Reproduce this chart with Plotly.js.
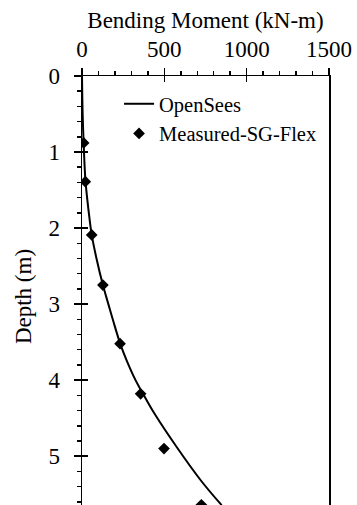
<!DOCTYPE html>
<html>
<head>
<meta charset="utf-8">
<script src="https://cdn.plot.ly/plotly-3.0.1.min.js"></script>
<style>
html,body{margin:0;padding:0;overflow:hidden;background:#fff;}
#chart{width:357px;height:517px;}
</style>
</head>
<body>
<div id="chart"></div>
<script>
// OpenSees curve (moment kN-m, depth m)
const openseesDepth  = [0, 0.5, 1.0, 1.4, 1.9, 2.09, 2.4, 2.75, 3.0, 3.21, 3.52, 3.74, 4.0, 4.13, 4.44, 4.88, 5.32, 5.645];
const openseesMoment = [0, 4, 12, 22, 47, 59, 88, 127, 160, 188, 232, 271, 325, 358, 440, 575, 722, 848];
// Measured-SG-Flex points
const measuredDepth  = [0.88, 1.39, 2.09, 2.75, 3.52, 4.18, 4.90, 5.64];
const measuredMoment = [10, 20, 59, 127, 231, 356, 498, 725];
const xTickVals = [0, 500, 1000, 1500];
const yTickVals = [0, 1, 2, 3, 4, 5];

const FONT = '"Liberation Serif", "Times New Roman", serif';
const traces = [
  {x: openseesMoment, y: openseesDepth, mode: 'lines', name: 'OpenSees',
   line: {color: '#000', width: 2, shape: 'spline', smoothing: 1}},
  {x: measuredMoment, y: measuredDepth, mode: 'markers', name: 'Measured-SG-Flex',
   marker: {symbol: 'diamond', size: 9, color: '#000'}},
  {x: [], y: [], xaxis: 'x2', yaxis: 'y2', showlegend: false, hoverinfo: 'skip'}
];
const layout = {
  width: 357, height: 517,
  margin: {l: 82, r: 28, t: 76, b: 0},
  paper_bgcolor: '#fff', plot_bgcolor: '#fff',
  font: {family: FONT, color: '#000', size: 23},
  showlegend: true,
  legend: {x: 0.150, y: 0.982, xanchor: 'left', yanchor: 'top',
           font: {family: FONT, size: 20.5, color: '#000'}, bgcolor: 'rgba(0,0,0,0)', borderwidth: 0},
  xaxis: {side: 'top', range: [0, 1500], tickvals: xTickVals, ticks: 'outside', ticklen: 7, tickwidth: 1.5,
          tickcolor: '#000', showline: true, linecolor: '#000', linewidth: 1.5, showgrid: false, zeroline: false,
          minor: {dtick: 100, ticks: 'outside', ticklen: 4, tickwidth: 1.5, tickcolor: '#000', showgrid: false},
          tickfont: {family: FONT, size: 23}, ticklabelstandoff: 1,
          title: {text: 'Bending Moment (kN-m)', font: {family: FONT, size: 23}, standoff: 2}},
  yaxis: {range: [5.8, 0], tickvals: yTickVals, ticks: 'outside', ticklen: 7, tickwidth: 1.5,
          tickcolor: '#000', showline: true, mirror: true, linecolor: '#000', linewidth: 1.5,
          showgrid: false, zeroline: false,
          minor: {dtick: 0.2, ticks: 'outside', ticklen: 4, tickwidth: 1.5, tickcolor: '#000', showgrid: false},
          tickfont: {family: FONT, size: 23}, ticklabelstandoff: 9,
          title: {text: 'Depth (m)', font: {family: FONT, size: 23}, standoff: 10}},
  xaxis2: {overlaying: 'x', side: 'top', anchor: 'y2', range: [0, 1500], tickvals: xTickVals, ticks: 'inside',
           ticklen: 6, tickwidth: 1.5, tickcolor: '#000', showticklabels: false, showline: false,
           showgrid: false, zeroline: false},
  yaxis2: {overlaying: 'y', side: 'left', anchor: 'x2', range: [5.8, 0], tickvals: yTickVals, ticks: 'inside',
           ticklen: 6, tickwidth: 1.5, tickcolor: '#000', showticklabels: false, showline: false,
           showgrid: false, zeroline: false}
};
Plotly.newPlot('chart', traces, layout, {staticPlot: true, displayModeBar: false});
</script>
</body>
</html>
